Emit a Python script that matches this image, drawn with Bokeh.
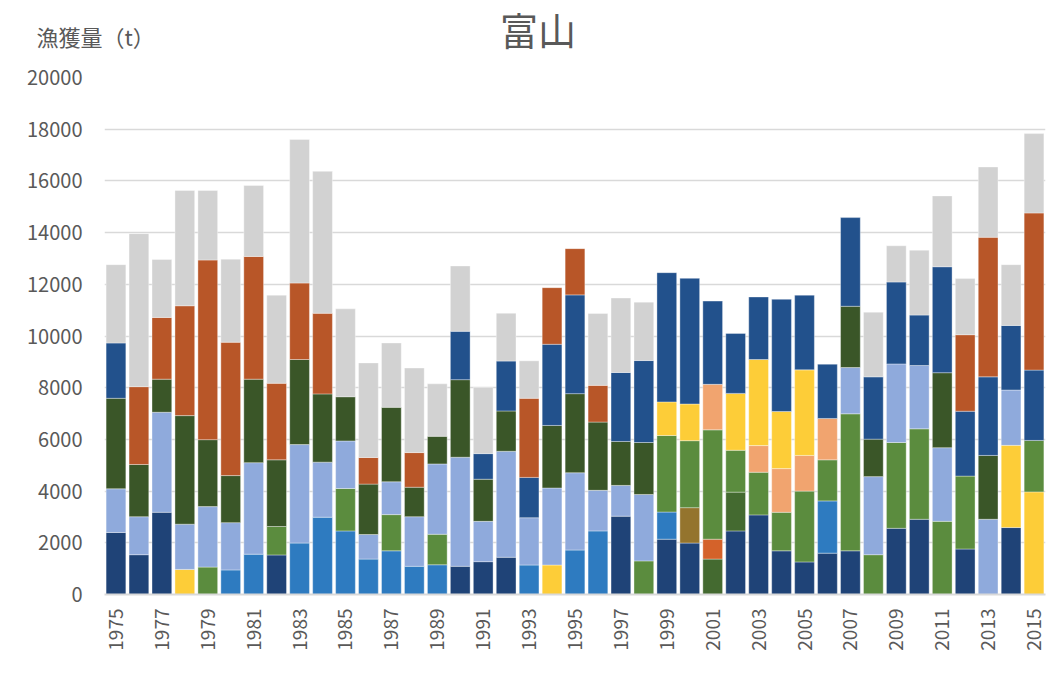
import math
from bokeh.plotting import figure
from bokeh.layouts import column
from bokeh.models import ColumnDataSource, Label, FixedTicker
from bokeh.embed import file_html
from bokeh.resources import INLINE

# ---------------- data ----------------
years = list(range(1975, 2016))
tick_years = list(range(1975, 2016, 2))
y_ticks = list(range(0, 20001, 2000))

title_text = "富山"
ylabel_text = "漁獲量（t）"

# catch (t) of each stacked segment, bottom (layer1) to top (layer5)
layer1 = [2400, 1540, 3180, 970, 1060, 950, 1560, 1530, 1990, 2990,
          2460, 1370, 1690, 1090, 1150, 1090, 1270, 1440, 1140, 1140,
          1720, 2460, 3030, 1300, 2140, 1990, 1370, 2460, 3080, 1690,
          1260, 1600, 1690, 1540, 2560, 2910, 2830, 1760, 2910, 2590,
          3970]
layer2 = [1690, 1470, 3870, 1750, 2340, 1830, 3540, 1100, 3810, 2130,
          1640, 950, 1400, 1920, 1180, 4220, 1560, 4100, 1830, 2980,
          2990, 1570, 1190, 2570, 1050, 1370, 770, 1500, 1650, 1490,
          2740, 2020, 5300, 3020, 3320, 3500, 2850, 2820, 2470, 3180,
          1990]
layer3 = [3500, 2020, 1280, 4200, 2590, 1820, 3230, 2580, 3290, 2640,
          1840, 1950, 1270, 1140, 2720, 3000, 1630, 1560, 1560, 2420,
          3060, 2640, 1700, 2010, 2960, 2590, 4230, 1620, 1030, 1690,
          1380, 1590, 1790, 1450, 3040, 2450, 2900, 2510, 3040, 2140,
          2720]
layer4 = [2140, 3010, 2390, 4250, 6950, 5160, 4750, 2960, 2960, 3120,
          1710, 1030, 2880, 1340, 1070, 1870, 990, 1930, 3060, 3140,
          3820, 1420, 2670, 3170, 1300, 1420, 1760, 2200, 3330, 2210,
          3310, 1600, 2370, 2410, 3170, 1950, 4100, 2960, 5400, 2500,
          6080]
layer5 = [3030, 5920, 2240, 4460, 2690, 3210, 2740, 3410, 5550, 5490,
          3400, 3660, 2490, 3270, 2030, 2530, 2560, 1850, 1450, 2190,
          1790, 2780, 2880, 2260, 5000, 4860, 3220, 2320, 2420, 4340,
          2890, 2100, 3430, 2500, 1400, 2510, 2740, 2170, 2720, 2350,
          3070]

# colour key of each segment
layer1_keys = ("N N N Y GR B B N B B "
               "B B B B B N N N B Y "
               "B B N GR N N G2 N N N "
               "N N N GR N N GR N L N Y").split()
layer2_keys = ("L L L L L L L GR L L "
               "GR L GR L GR L L L L L "
               "L L L L B OL OR G2 GR GR "
               "GR B GR L GR GR L GR G Y GR").split()
layer3_keys = ("G G G G G G G G G G "
               "L G L G L G G G DB G "
               "G G G G GR GR GR GR S S "
               "S GR L G L L G DB DB L DB").split()
layer4_keys = ("DB O O O O O O O O O "
               "G O G O G DB DB DB O DB "
               "DB O DB DB Y Y S Y Y Y "
               "Y S G DB DB DB DB O O DB O").split()
layer5_keys = ("GY GY GY GY GY GY GY GY GY GY "
               "GY GY GY GY GY GY GY GY GY O "
               "O GY GY GY DB DB DB DB DB DB "
               "DB DB DB GY GY GY GY GY GY GY GY").split()

palette = {
    "N": "#1F4377", "DB": "#22518C", "B": "#2E7BC0", "L": "#8FAADC",
    "G": "#3A5628", "G2": "#446A30", "GR": "#5B8C3E", "O": "#B85628",
    "GY": "#D2D2D2", "Y": "#FDCD38", "S": "#F1A46F", "OL": "#94742D",
    "OR": "#D4622A",
}

FONT = "Noto Sans CJK JP"
TXT = "#595959"
W = 1046
HEAD_H = 60

# ---------------- header (title + unit label) ----------------
head = figure(width=W, height=HEAD_H, x_range=(0, W), y_range=(0, HEAD_H),
              output_backend="svg", toolbar_location=None,
              x_axis_type=None, y_axis_type=None,
              min_border_left=0, min_border_right=0, min_border_top=0,
              min_border_bottom=0)
head.frame_align = False
head.outline_line_color = None
head.xgrid.grid_line_color = None
head.ygrid.grid_line_color = None
head.add_layout(Label(x=537.5, y=HEAD_H - 28, text=title_text,
                      text_align="center", text_baseline="middle", text_font=FONT,
                      text_font_size="38px", text_color=TXT))
head.add_layout(Label(x=36, y=HEAD_H - 35, text=ylabel_text,
                      text_align="left", text_baseline="middle", text_font=FONT,
                      text_font_size="22px", text_color=TXT))

# ---------------- main chart ----------------
p = figure(width=W, height=661 - HEAD_H, x_range=(1974.5, 2015.5), y_range=(0, 20000),
           output_backend="svg", toolbar_location=None,
           min_border_left=104, min_border_right=1, min_border_top=77 - HEAD_H,
           min_border_bottom=67)
p.outline_line_color = None
p.xgrid.grid_line_color = None
p.ygrid.grid_line_color = "#D9D9D9"
p.ygrid.grid_line_width = 1.5

layers = [(layer1, layer1_keys), (layer2, layer2_keys), (layer3, layer3_keys),
          (layer4, layer4_keys), (layer5, layer5_keys)]
base = [0] * len(years)
for vals, keys in layers:
    tops = [b + v for b, v in zip(base, vals)]
    src = ColumnDataSource(dict(x=years, bottom=base, top=tops,
                                color=[palette[k] for k in keys]))
    p.vbar(x="x", bottom="bottom", top="top", width=0.86, source=src,
           fill_color="color", line_color="white", line_width=0.6, line_alpha=0.6)
    base = tops

# y axis
p.yaxis.ticker = FixedTicker(ticks=y_ticks)
p.yaxis.axis_line_color = None
p.yaxis.major_tick_line_color = None
p.yaxis.minor_tick_line_color = None
p.yaxis.major_tick_out = 0
p.yaxis.major_label_standoff = 22
p.yaxis.major_label_text_font = FONT
p.yaxis.major_label_text_font_size = "20px"
p.yaxis.major_label_text_color = TXT

# x axis
p.xaxis.ticker = FixedTicker(ticks=tick_years)
p.xaxis.axis_line_color = "#D9D9D9"
p.xaxis.axis_line_width = 2
p.xaxis.major_tick_line_color = None
p.xaxis.minor_tick_line_color = None
p.xaxis.major_tick_out = 0
p.xaxis.major_label_standoff = 14
p.xaxis.major_label_orientation = math.pi / 2
p.xaxis.major_label_text_font = FONT
p.xaxis.major_label_text_font_size = "19px"
p.xaxis.major_label_text_color = TXT

layout = column(head, p, spacing=0)
open("out.html", "w").write(file_html(layout, INLINE))
